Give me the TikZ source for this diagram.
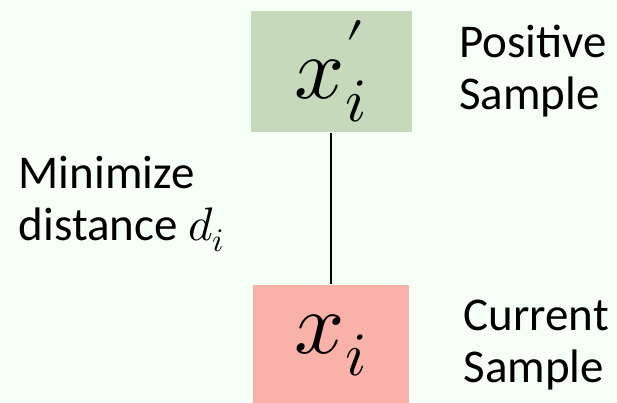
\documentclass[tikz,border=0pt]{standalone}
\usepackage{fontspec}
\usepackage{unicode-math}
\setmainfont{Carlito}
\setmathfont{Latin Modern Math}
\usetikzlibrary{positioning}

\definecolor{bgmint}{RGB}{245,255,245}
\definecolor{posgreen}{RGB}{198,217,186}
\definecolor{curpink}{RGB}{248,178,168}

\tikzset{
  samplebox/.style={minimum height=121pt, inner sep=0pt, font=\fontsize{88}{88}\selectfont},
  caption/.style={align=left, inner sep=0pt, font=\fontsize{47}{52}\selectfont},
}

\begin{document}
\begin{tikzpicture}[x=1pt, y=-1pt, node distance=46pt, line width=1.6pt]
        % Background
        \useasboundingbox (0,0) rectangle (617,402);
        \fill[bgmint] (0,0) rectangle (617,402);

        % Nodes
        \node (positive) [samplebox, fill=posgreen, minimum width=161pt] at (331,71.5) {$x'_i$};
        \node (current) [samplebox, fill=curpink, minimum width=156pt] at (331,345.5) {$x_i$};
        \node (poslabel) [caption, right=of positive] {Positive\\Sample};
        \node (curlabel) [caption, right=53pt of current] {Current\\Sample};
        \node (distlabel) [caption, anchor=west] at (18,204) {Minimize\\distance $d_i$};

        % Edges
        \draw (positive) -- (current);
\end{tikzpicture}
\end{document}
